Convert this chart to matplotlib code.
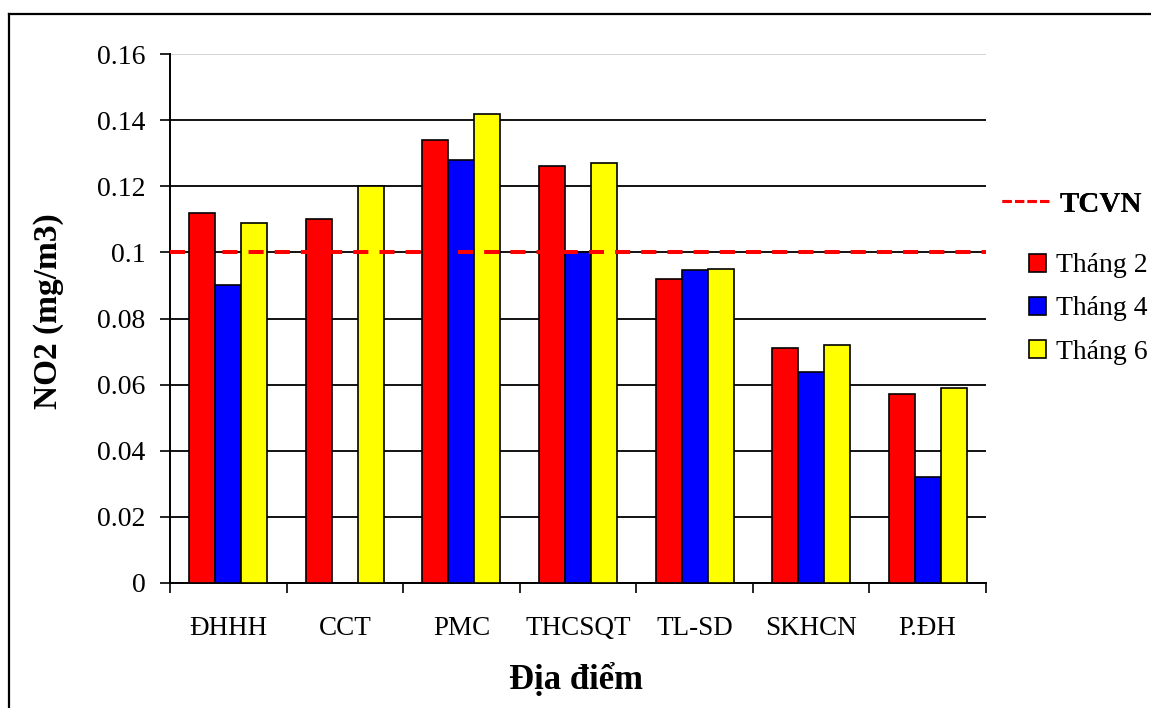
import numpy as np
import matplotlib
matplotlib.use('Agg')
import matplotlib.pyplot as plt
from matplotlib.lines import Line2D
from matplotlib.patches import Patch

plt.rcParams['font.family'] = ['Liberation Serif', 'DejaVu Serif']

# nồng độ NO2 theo địa điểm (mg/m3)
dia_diem = ['ĐHHH', 'CCT', 'PMC', 'THCSQT', 'TL-SD', 'SKHCN', 'P.ĐH']
thang_2 = [0.112, 0.110, 0.134, 0.126, 0.092, 0.071, 0.0573]
thang_4 = [0.090, None, 0.128, 0.100, 0.0946, 0.0638, 0.0322]
thang_6 = [0.109, 0.120, 0.1418, 0.127, 0.0951, 0.0721, 0.0589]
series_names = ['Tháng 2', 'Tháng 4', 'Tháng 6']
tcvn = 0.1
y_ticks = [0, 0.02, 0.04, 0.06, 0.08, 0.1, 0.12, 0.14, 0.16]

colors = ['#FF0000', '#0000FF', '#FFFF00']

fig = plt.figure(figsize=(11.51, 7.08), dpi=100)
ax = fig.add_axes([170 / 1151, 1 - 583 / 708, 816 / 1151, 529 / 708])

x = np.arange(len(dia_diem))
w = 0.223
for i, (vals, c) in enumerate(zip([thang_2, thang_4, thang_6], colors)):
    v = np.array([np.nan if a is None else a for a in vals], dtype=float)
    ax.bar(x + (i - 1) * w, v, width=w, color=c, edgecolor='black',
           linewidth=1.2, zorder=3)

ax.axhline(tcvn, color='#FF0000', lw=2.9, dashes=(3.75, 2.75), zorder=5)

ax.set_xlim(-0.5, len(dia_diem) - 0.5)
ax.set_ylim(0, 0.16)
ax.set_yticks(y_ticks)
ax.set_yticklabels([f'{v:g}' for v in y_ticks])
ax.set_xticks(x)
ax.set_xticklabels(dia_diem)
ax.set_xticks(np.arange(-0.5, len(dia_diem)), minor=True)

ax.tick_params(axis='y', direction='out', length=7.2, width=1.2, pad=10.5,
               labelsize=20)
ax.tick_params(axis='x', which='major', length=0, pad=24, labelsize=19.5)
ax.tick_params(axis='x', which='minor', direction='out', length=7.2, width=1.2)

ax.yaxis.grid(True, color='black', lw=1.3)
ax.set_axisbelow(True)
ax.get_ygridlines()[-1].set_color('#d0d0d0')
for s in ['top', 'right']:
    ax.spines[s].set_visible(False)
for s in ['left', 'bottom']:
    ax.spines[s].set_linewidth(1.4)

fig.text(49 / 1151, 1 - 311 / 708, 'NO2 (mg/m3)', rotation=90, ha='center',
         va='center', fontsize=24, fontweight='bold')
fig.text(576 / 1151, 1 - 689 / 708, 'Địa điểm', ha='center', va='baseline',
         fontsize=25, fontweight='bold')

# chú thích: đường TCVN và các tháng
h_line = [Line2D([], [], color='#FF0000', lw=2.2, dashes=(3, 1.1))]
leg1 = fig.legend(h_line, ['TCVN'], loc='center left',
                  bbox_to_anchor=(1002 / 1151, 1 - 204 / 708), frameon=False,
                  borderpad=0, borderaxespad=0, handlelength=1.62,
                  handletextpad=0.36, prop={'size': 21, 'weight': 'bold'})
h_box = [Patch(facecolor=c, edgecolor='black', linewidth=1.2) for c in colors]
fig.legend(h_box, series_names, loc='center left',
           bbox_to_anchor=(1029 / 1151, 1 - 309 / 708), frameon=False,
           borderpad=0, borderaxespad=0, handlelength=0.61, handleheight=0.61,
           handletextpad=0.36, labelspacing=0.65, prop={'size': 20})
fig.add_artist(leg1)

# khung viền ngoài
fig.add_artist(Line2D([9 / 1151, 9 / 1151], [-0.05, 1 - 14 / 708],
                      color='black', lw=1.6, transform=fig.transFigure))
fig.add_artist(Line2D([9 / 1151, 1.05], [1 - 14 / 708, 1 - 14 / 708],
                      color='black', lw=1.6, transform=fig.transFigure))

fig.savefig('out.png', dpi=100)
